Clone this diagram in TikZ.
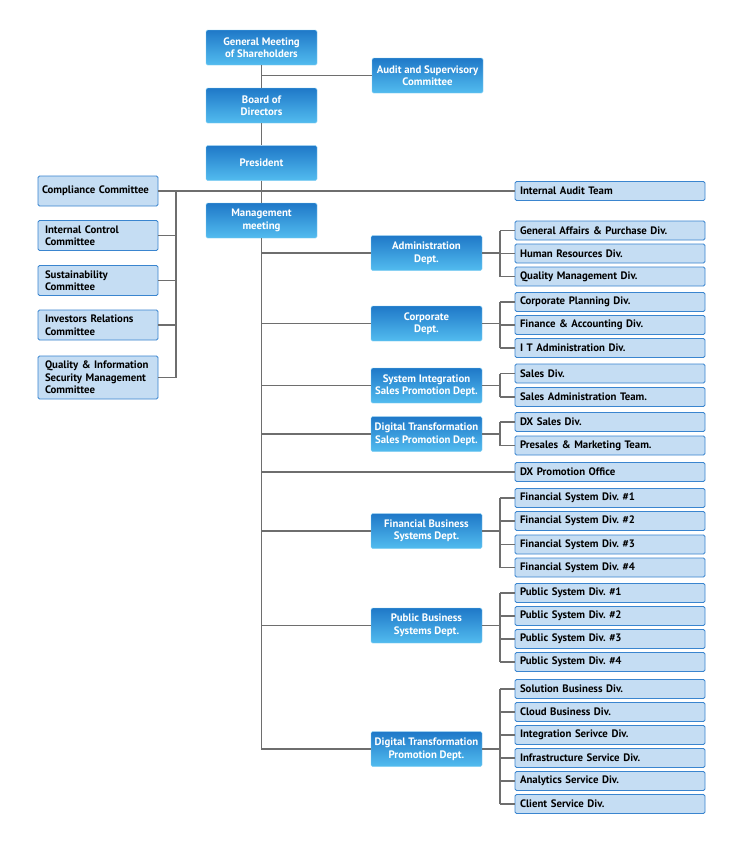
\documentclass[tikz,border=0pt]{standalone}
\usepackage{fontspec}
\setmainfont{PT Sans}
\frenchspacing
\definecolor{topblue}{HTML}{1F78C8}
\definecolor{botblue}{HTML}{52BCEF}
\definecolor{divfill}{HTML}{C5DDF3}
\definecolor{divline}{HTML}{3A85CF}
\definecolor{wirecol}{HTML}{6E6E6E}
\tikzset{
  headbox/.style={rectangle, rounded corners=1.5pt, top color=topblue, bottom color=botblue,
    draw=botblue!70!white, text=white, align=center, inner sep=1pt,
    minimum width=111pt, minimum height=35pt, font=\bfseries\fontsize{10.8}{12.5}\selectfont},
  divbox/.style={rectangle, rounded corners=1.5pt, fill=divfill, draw=divline, line width=0.8pt,
    minimum width=190pt, minimum height=19pt, text width=180pt, inner xsep=5pt, inner ysep=0pt,
    align=left, font=\bfseries\fontsize{10.8}{12.5}\selectfont},
  combox/.style={divbox, minimum width=120pt, text width=112pt, inner xsep=4pt, minimum height=30pt},
  wire/.style={draw=wirecol, line width=1.2pt}
}
\begin{document}
\begin{tikzpicture}[x=1pt,y=-1pt]
\useasboundingbox[fill=white] (0,0) rectangle (738,844);
\coordinate (cbus) at (176,0);
\coordinate (dbus) at (500,0);

% top of the chart
\node[headbox] (gms)  at (261.5,47.5)  {General Meeting\\of Shareholders};
\node[headbox] (asc)  at (427.5,75.5)  {Audit and Supervisory\\Committee};
\node[headbox] (bod)  at (261.5,105.5) {Board of\\Directors};
\node[headbox] (pres) at (261.5,163)   {President};
\node[headbox] (mgmt) at (261.5,220.5) {Management\\meeting};

% committees
\node[combox] (comp) at (98,191)   {Compliance Committee};
\node[combox] (icc)  at (98,235.5) {\hspace{3pt}Internal Control\\\hspace{3pt}Committee};
\node[combox] (sus)  at (98,280.5) {\hspace{3pt}Sustainability\\\hspace{3pt}Committee};
\node[combox] (irc)  at (98,325)   {\hspace{3pt}Investors Relations\\\hspace{3pt}Committee};
\node[combox, minimum height=43pt] (qism) at (98,377.5) {\hspace{3pt}Quality \& Information\\\hspace{3pt}Security Management\\\hspace{3pt}Committee};

\node[divbox] (iat) at (610,191) {Internal Audit Team};

% departments
\node[headbox] (adm)  at (426.5,253)   {Administration\\Dept.};
\node[headbox] (corp) at (426.5,323.5) {Corporate\\Dept.};
\node[headbox] (sisp) at (426.5,385.5) {System Integration\\Sales Promotion Dept.};
\node[headbox] (dxsp) at (426.5,434)   {Digital Transformation\\Sales Promotion Dept.};
\node[headbox] (fbs)  at (426.5,531)   {Financial Business\\Systems Dept.};
\node[headbox] (pbs)  at (426.5,625.5) {Public Business\\Systems Dept.};
\node[headbox] (dxp)  at (426.5,749)   {Digital Transformation\\Promotion Dept.};

% divisions
\foreach \y/\txt [count=\i] in {230.5/General Affairs \& Purchase Div., 253.5/Human Resources Div., 276.5/Quality Management Div.}
  \node[divbox] (adm\i) at (610,\y) {\txt};
\foreach \y/\txt [count=\i] in {302/Corporate Planning Div., 325/Finance \& Accounting Div., 348/I T Administration Div.}
  \node[divbox] (corp\i) at (610,\y) {\txt};
\foreach \y/\txt [count=\i] in {373.5/Sales Div., 397/Sales Administration Team.}
  \node[divbox] (sisp\i) at (610,\y) {\txt};
\foreach \y/\txt [count=\i] in {422/DX Sales Div., 445.5/Presales \& Marketing Team.}
  \node[divbox] (dxsp\i) at (610,\y) {\txt};
\node[divbox] (dxpo) at (610,472) {DX Promotion Office};
\foreach \y [count=\i] in {498,521,544.5,567.5}
  \node[divbox] (fbs\i) at (610,\y) {Financial System Div. \#\i};
\foreach \y [count=\i] in {593,616,639,662}
  \node[divbox] (pbs\i) at (610,\y) {Public System Div. \#\i};
\foreach \y/\txt [count=\i] in {689/Solution Business Div., 712/Cloud Business Div., 735/Integration Serivce Div., 758/Infrastructure Service Div., 781/Analytics Service Div., 804/Client Service Div.}
  \node[divbox] (dxp\i) at (610,\y) {\txt};

% main line
\draw[wire] (gms) -- (bod);
\draw[wire] (bod) -- (pres);
\draw[wire] (pres) -- (mgmt);
\draw[wire] (gms.south |- asc.west) -- (asc.west);
\draw[wire] (mgmt.south) -- (mgmt.south |- dxp.west) -- (dxp.west);
\foreach \d in {adm,corp,sisp,dxsp,fbs,pbs,dxpo}
  \draw[wire] (mgmt.south |- \d.west) -- (\d.west);

% committee lines
\draw[wire] (comp.east) -- (iat.west);
\draw[wire] (comp.east -| cbus) -- (qism.east -| cbus);
\foreach \c in {icc,sus,irc,qism}
  \draw[wire] (\c.east) -- (\c.east -| cbus);

% department to division lines
\foreach \d/\n in {adm/3,corp/3,sisp/2,dxsp/2,fbs/4,pbs/4,dxp/6} {
  \draw[wire] (\d.east) -- (\d.east -| dbus);
  \draw[wire] (\d1.west -| dbus) -- (\d\n.west -| dbus);
  \foreach \i in {1,...,\n}
    \draw[wire] (\d\i.west -| dbus) -- (\d\i.west);
}
\end{tikzpicture}
\end{document}
